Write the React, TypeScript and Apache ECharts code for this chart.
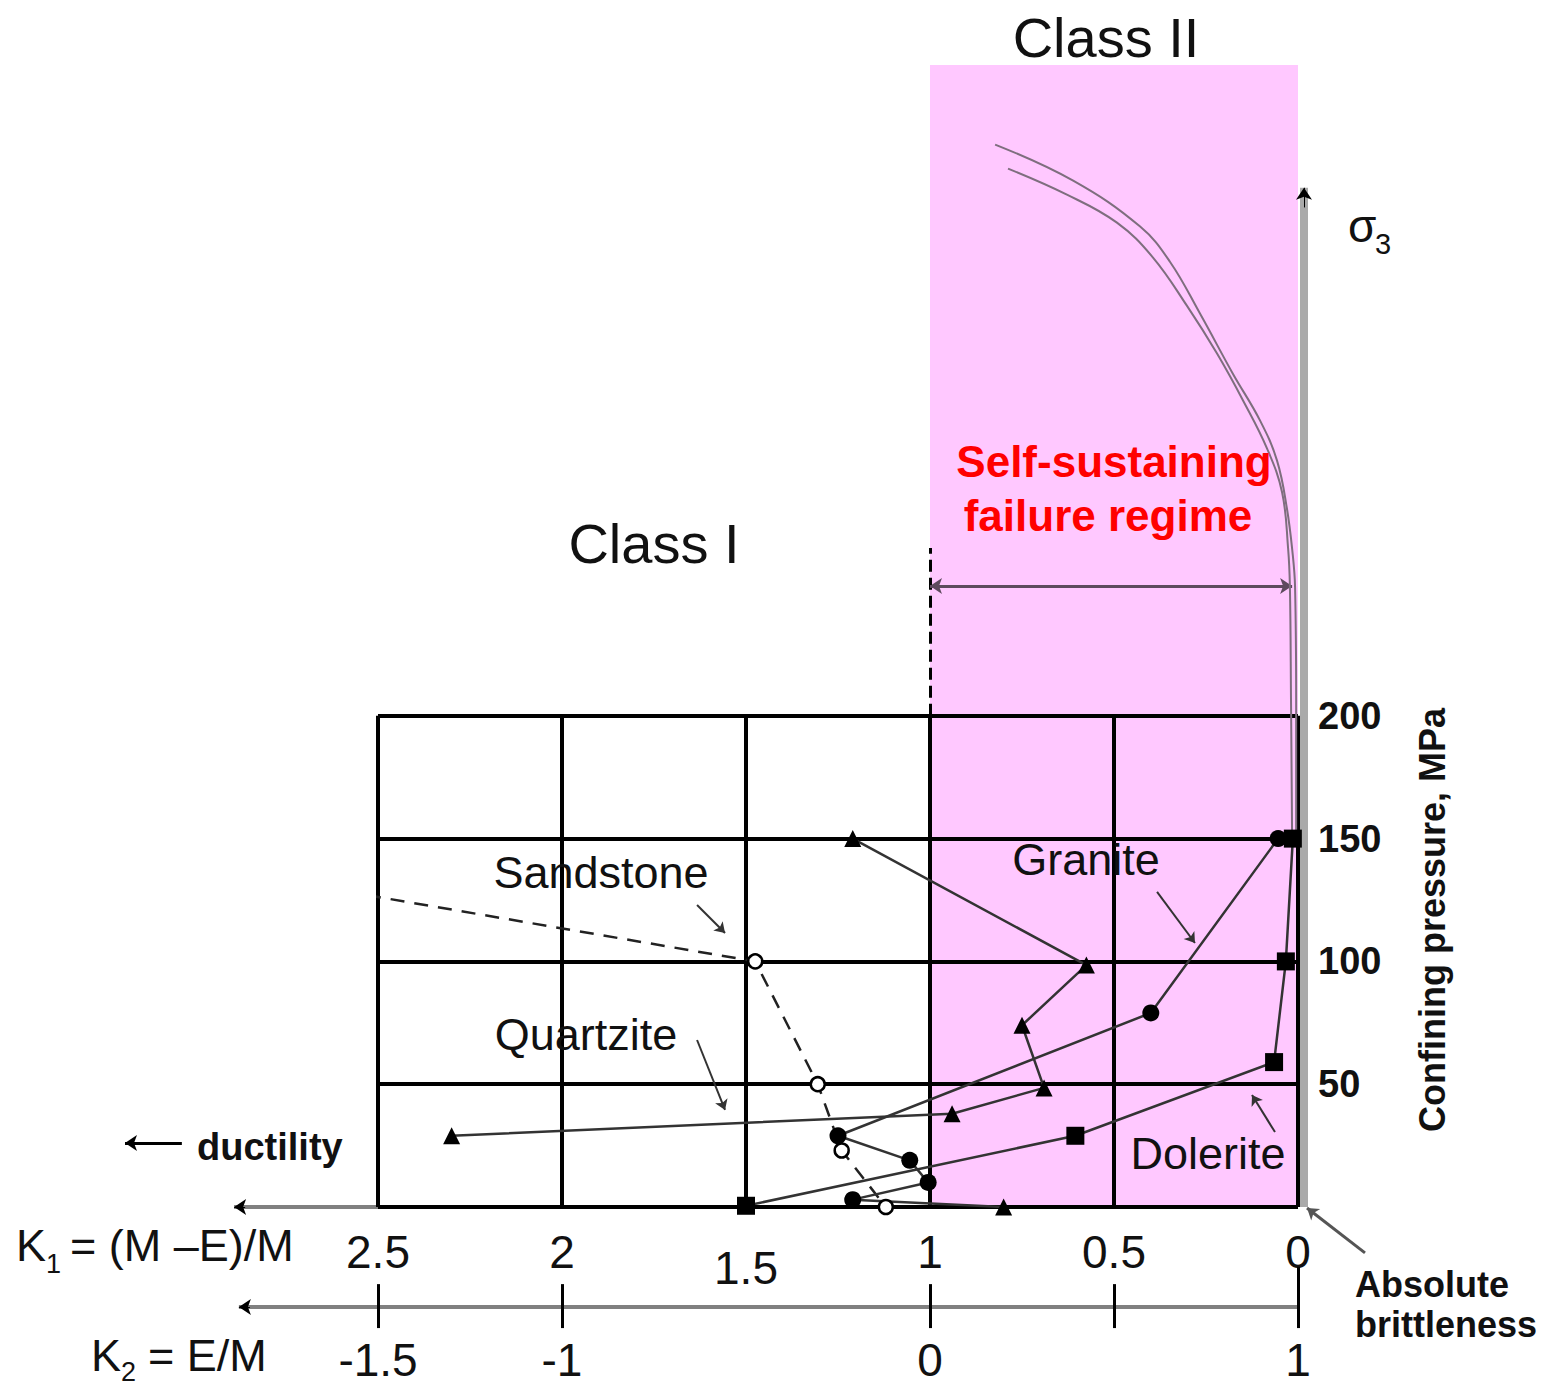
import React, { useEffect, useRef } from "react";
import * as echarts from "echarts";

const FONT = "'Liberation Sans', Arial, Helvetica, sans-serif";
const INK = "#111";

// ---- axes ----
const K1_MIN = 0;
const K1_MAX = 2.5;
const P_MIN = 0;
const P_MAX = 465;
const K1_GRID = [2.5, 2, 1.5, 1, 0.5, 0];
const P_GRID = [0, 50, 100, 150, 200];
const P_LABELS = [50, 100, 150, 200];
const K2_LABELS = [-1.5, -1, 0, 1];
const K2_TICKS = [-1.5, -1, 0, 0.5, 1];

// ---- data: [K1, confining pressure (MPa)] ----
const sandstone = [[2.53, 127], [1.475, 100], [1.305, 50], [1.24, 23], [1.12, 0]];
const quartziteLow = [[0.8, 0], [1.21, 3]];
const quartzite = [[2.3, 29], [0.94, 38], [0.69, 48.5], [0.75, 74], [0.575, 98.5], [1.21, 150]];
const granite = [[1.21, 3], [1.005, 10], [1.055, 19], [1.25, 29], [0.4, 79], [0.054, 150]];
const dolerite = [[1.5, 0.5], [0.605, 29], [0.065, 59], [0.033, 100], [0.014, 150]];
const envelopeOuter = [
  [0.823, 432.6], [0.611, 417.9], [0.429, 399.2], [0.348, 384.9], [0.266, 363.7],
  [0.177, 339.3], [0.103, 320.2], [0.057, 303.9], [0.03, 284.3], [0.014, 265.2],
  [0.008, 252.5], [0.005, 206.5], [0.005, 150],
];
const envelopeInner = [
  [0.788, 422.8], [0.628, 412.2], [0.492, 400.8], [0.394, 386.6], [0.302, 367.0],
  [0.22, 347.5], [0.149, 328.3], [0.084, 308.8], [0.043, 290.8], [0.027, 268.4],
  [0.022, 252.5], [0.019, 206.5], [0.016, 150],
];

// ---- annotation geometry (data units) ----
const SELF_SUSTAIN_P = 252.9;
const SELF_SUSTAIN_K1 = [1.0, 0.016];
const DASH_TOP_P = 268.3;
const SIGMA3_K1 = -0.0163;
const SIGMA3_TOP = 415;
const K1_AXIS_END = 2.891;
const K2_AXIS_P = -40.7;
const K2_AXIS_END = 2.878;
const K2_TICK_P = [-31.4, -49.3];
const K2_ZERO_TICK_TOP = -24.4;
const DUCTILITY_ARROW = [[3.033, 26.1], [3.1875, 26.1]];
const BRITTLE_POINTER = [[-0.182, -18.7], [-0.0245, -0.4]];
const POINTERS = [
  [[1.633, 123.0], [1.557, 111.6]], // Sandstone
  [[1.633, 68.0], [1.557, 39.5]], // Quartzite
  [[0.383, 128.3], [0.28, 107.5]], // Granite
  [[0.0625, 30.5], [0.125, 45.6]], // Dolerite
];

export default function App() {
  const ref = useRef<HTMLDivElement>(null);

  useEffect(() => {
    const chart = echarts.init(ref.current!, null, { renderer: "svg" });

    const seg = (a: number[], b: number[]) => ({ coords: [a, b] });
    const gridSegs = [
      ...K1_GRID.map((k) => seg([k, 0], [k, 200])),
      ...P_GRID.map((p) => seg([K1_MAX, p], [K1_MIN, p])),
    ];
    const k2TickSegs = K2_TICKS.map((k2) =>
      seg([1 - k2, k2 === 1 ? K2_ZERO_TICK_TOP : K2_TICK_P[0]], [1 - k2, K2_TICK_P[1]])
    );

    const linesBase = (data: any[], color: string, width: number, extra: any = {}) => ({
      type: "lines",
      coordinateSystem: "cartesian2d",
      xAxisIndex: 0,
      yAxisIndex: 0,
      clip: false,
      silent: true,
      data,
      symbol: extra.symbol || "none",
      symbolSize: extra.symbolSize || 10,
      lineStyle: { color, width, opacity: 1, type: extra.type || "solid", curveness: 0 },
      z: extra.z || 3,
    });

    const lineSeries = (name: string, data: any[], symbol: string, size: number, opts: any = {}) => ({
      name,
      type: "line",
      data,
      symbol,
      symbolSize: size,
      showSymbol: true,
      smooth: opts.smooth || false,
      clip: false,
      silent: true,
      z: opts.z || 6,
      lineStyle: { color: "#333", width: 2.5, ...(opts.lineStyle || {}) },
      itemStyle: { color: "#000", ...(opts.itemStyle || {}) },
      emphasis: { disabled: true },
    });

    const txt = (text: string, x: number, y: number, size: number, extra: any = {}) => ({
      type: "text",
      x,
      y,
      rotation: extra.rotation || 0,
      z: 20,
      silent: true,
      style: {
        text,
        fill: extra.fill || INK,
        fontSize: size,
        fontFamily: FONT,
        fontWeight: extra.bold ? "bold" : "normal",
        align: extra.align || "center",
        verticalAlign: "middle",
      },
    });

    const option: any = {
      animation: false,
      backgroundColor: "#fff",
      grid: { left: 378, right: 249, top: 65, bottom: 180, containLabel: false },
      xAxis: [
        {
          type: "value",
          inverse: true,
          min: K1_MIN,
          max: K1_MAX,
          interval: 0.5,
          axisLine: { show: false },
          axisTick: { show: false },
          splitLine: { show: false },
          axisLabel: {
            margin: 22,
            fontSize: 46,
            fontFamily: FONT,
            color: INK,
            formatter: (v: number) => (v === 1.5 ? "{low|1.5}" : String(v)),
            rich: { low: { fontSize: 46, fontFamily: FONT, color: INK, padding: [16, 0, 0, 0] } },
          },
        },
        {
          type: "value",
          position: "bottom",
          offset: 100,
          min: -1.5,
          max: 1,
          interval: 0.5,
          axisLine: { show: false },
          axisTick: { show: false },
          splitLine: { show: false },
          axisLabel: {
            margin: 30,
            fontSize: 46,
            fontFamily: FONT,
            color: INK,
            formatter: (v: number) => (K2_LABELS.includes(v) ? String(v) : ""),
          },
        },
      ],
      yAxis: {
        type: "value",
        position: "right",
        min: P_MIN,
        max: P_MAX,
        interval: 50,
        axisLine: { show: false },
        axisTick: { show: false },
        splitLine: { show: false },
        axisLabel: {
          margin: 20,
          fontSize: 38,
          fontWeight: "bold",
          fontFamily: FONT,
          color: INK,
          formatter: (v: number) => (P_LABELS.includes(v) ? String(v) : ""),
        },
      },
      series: [
        {
          type: "custom",
          silent: true,
          z: 1,
          encode: { x: [0, 2], y: [1, 3] },
          data: [[1, P_MIN, 0, P_MAX]],
          renderItem: (params: any, api: any) => {
            const a = api.coord([api.value(0), api.value(1)]);
            const b = api.coord([api.value(2), api.value(3)]);
            return {
              type: "rect",
              shape: {
                x: Math.min(a[0], b[0]),
                y: Math.min(a[1], b[1]),
                width: Math.abs(b[0] - a[0]),
                height: Math.abs(b[1] - a[1]),
              },
              style: { fill: "#FFC8FF" },
            };
          },
        },
        linesBase(gridSegs, "#000", 4, { z: 3 }),
        linesBase([seg([1, 200], [1, DASH_TOP_P])], "#000", 3, { type: [12, 6], z: 3 }),
        linesBase(
          [seg([SIGMA3_K1, 0], [SIGMA3_K1, SIGMA3_TOP])],
          "#aaaaaa",
          8,
          { z: 2 }
        ),
        linesBase(
          [seg([SIGMA3_K1, SIGMA3_TOP - 8], [SIGMA3_K1, SIGMA3_TOP])],
          "#000",
          1,
          { symbol: ["none", "arrow"], symbolSize: 12, z: 4 }
        ),
        linesBase(
          [seg([SELF_SUSTAIN_K1[0], SELF_SUSTAIN_P], [SELF_SUSTAIN_K1[1], SELF_SUSTAIN_P])],
          "#5e4a5e",
          3,
          { symbol: ["arrow", "arrow"], symbolSize: 12, z: 4 }
        ),
        linesBase([seg([K1_MAX, 0], [K1_AXIS_END, 0])], "#808080", 4, { z: 2 }),
        linesBase(
          [seg([K1_AXIS_END - 0.03, 0], [K1_AXIS_END, 0])],
          "#000",
          1,
          { symbol: ["none", "arrow"], symbolSize: 12, z: 4 }
        ),
        linesBase([seg([0, K2_AXIS_P], [K2_AXIS_END, K2_AXIS_P])], "#808080", 4, { z: 2 }),
        linesBase(
          [seg([K2_AXIS_END - 0.03, K2_AXIS_P], [K2_AXIS_END, K2_AXIS_P])],
          "#000",
          1,
          { symbol: ["none", "arrow"], symbolSize: 12, z: 4 }
        ),
        linesBase(k2TickSegs, "#000", 3, { z: 3 }),
        linesBase([seg(DUCTILITY_ARROW[0], DUCTILITY_ARROW[1])], "#000", 3, {
          symbol: ["none", "arrow"],
          symbolSize: 12,
          z: 4,
        }),
        linesBase([seg(BRITTLE_POINTER[0], BRITTLE_POINTER[1])], "#555", 3, {
          symbol: ["none", "arrow"],
          symbolSize: 11,
          z: 4,
        }),
        linesBase(
          POINTERS.map((p) => seg(p[0], p[1])),
          "#333",
          2,
          { symbol: ["none", "arrow"], symbolSize: 10, z: 4 }
        ),
        lineSeries("envelopeOuter", envelopeOuter, "none", 0, {
          lineStyle: { color: "#7e6e7e", width: 2 },
          smooth: 0.4,
          z: 4,
        }),
        lineSeries("envelopeInner", envelopeInner, "none", 0, {
          lineStyle: { color: "#7e6e7e", width: 2 },
          smooth: 0.4,
          z: 4,
        }),
        lineSeries(
          "Sandstone",
          sandstone.map((d, i) => (i === 0 ? { value: d, symbol: "none" } : d)),
          "circle",
          14,
          {
            lineStyle: { type: [14, 10], width: 2.5, color: "#222" },
            itemStyle: { color: "#fff", borderColor: "#000", borderWidth: 2.5 },
          }
        ),
        lineSeries(
          "QuartziteLow",
          quartziteLow.map((d, i) => (i === 1 ? { value: d, symbol: "none" } : d)),
          "triangle",
          17
        ),
        lineSeries("Quartzite", quartzite, "triangle", 17),
        lineSeries("Granite", granite, "circle", 17),
        lineSeries("Dolerite", dolerite, "rect", 18),
      ],
      graphic: [
        txt("Class II", 1106, 37, 56),
        txt("Class I", 654, 543, 56),
        txt("Self-sustaining", 1114, 461, 44, { bold: true, fill: "#FF0000" }),
        txt("failure regime", 1108, 515, 44, { bold: true, fill: "#FF0000" }),
        txt("Sandstone", 601, 872, 45),
        txt("Quartzite", 586, 1034, 45),
        txt("Granite", 1086, 859, 45),
        txt("Dolerite", 1208, 1153, 45),
        txt("ductility", 197, 1147, 38, { bold: true, align: "left" }),
        txt("K", 16, 1245, 45, { align: "left" }),
        txt("1", 46, 1264, 27, { align: "left" }),
        txt("= (M –E)/M", 70, 1245, 45, { align: "left" }),
        txt("K", 91, 1355, 45, { align: "left" }),
        txt("2", 121, 1372, 27, { align: "left" }),
        txt("= E/M", 148, 1355, 45, { align: "left" }),
        txt("σ", 1348, 226, 46, { align: "left" }),
        txt("3", 1375, 244, 29, { align: "left" }),
        txt("Absolute", 1355, 1284, 36, { bold: true, align: "left" }),
        txt("brittleness", 1355, 1324, 36, { bold: true, align: "left" }),
        txt("Confining pressure, MPa", 1432, 920, 36, { bold: true, rotation: Math.PI / 2 }),
      ],
    };

    chart.setOption(option);
    return () => chart.dispose();
  }, []);

  return (
    <div
      ref={ref}
      style={{ position: "absolute", left: 0, top: 0, width: 1547, height: 1387 }}
    />
  );
}
